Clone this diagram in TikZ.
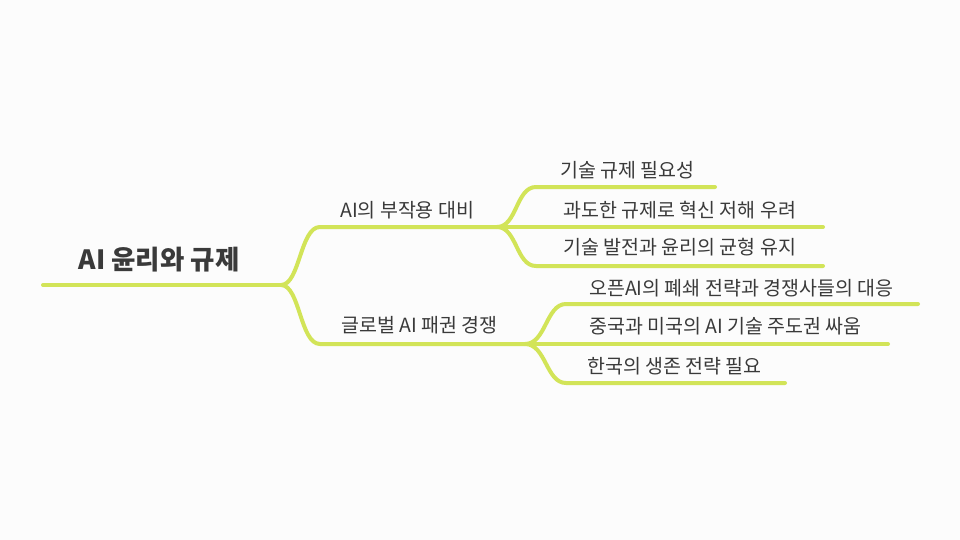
\documentclass[tikz,border=0pt]{standalone}
\usepackage{fontspec}
\setmainfont{Noto Sans CJK KR}
\usetikzlibrary{positioning}
\definecolor{lime}{RGB}{210,228,88}
\definecolor{ink}{RGB}{58,58,58}
\definecolor{paper}{RGB}{252,252,252}

\begin{document}
\begin{tikzpicture}[x=1pt,y=-1pt,
  branch/.style={line width=4pt,lime,line cap=round},
  label/.style={anchor=west,inner sep=0pt,text=ink,font=\fontsize{19.5}{22}\selectfont}]

\useasboundingbox[fill=paper] (0,0) rectangle (960,540);

% root
\node[inner sep=0pt,text=ink,font=\fontsize{26.5}{30}\selectfont\bfseries] (root) at (159,260) {AI 윤리와 규제};
\coordinate (rootstart) at (43,285);
\coordinate (rootfork) at (281,285);

% main branches
\coordinate (sidestart) at (320,227);
\coordinate (sidefork) at (497,227);
\coordinate (globalstart) at (320,344);
\coordinate (globalfork) at (525,344);
\node[label] (side) at (340,210) {AI의 부작용 대비};
\node[label] (global) at (341,325) {글로벌 AI 패권 경쟁};

% leaves
\coordinate (needstart) at (536,187);   \coordinate (needend) at (715,187);
\coordinate (fearend) at (823,227);
\coordinate (balancestart) at (536,266); \coordinate (balanceend) at (823,266);
\coordinate (openstart) at (566,304);   \coordinate (openend) at (918,304);
\coordinate (rivalend) at (888,344);
\coordinate (koreastart) at (566,383);  \coordinate (koreaend) at (785,383);

\node[label] (need) at (560,170) {기술 규제 필요성};
\node[label] (fear) at (563,210) {과도한 규제로 혁신 저해 우려};
\node[label] (balance) at (563,247) {기술 발전과 윤리의 균형 유지};
\node[label] (open) at (589,288) {오픈AI의 폐쇄 전략과 경쟁사들의 대응};
\node[label] (rival) at (589,326) {중국과 미국의 AI 기술 주도권 싸움};
\node[label] (korea) at (587,366) {한국의 생존 전략 필요};

\draw[branch] (rootstart) -- (rootfork);
\draw[branch] (rootfork) .. controls (300,285) and (300,227) .. (sidestart) -- (sidefork);
\draw[branch] (rootfork) .. controls (300,285) and (300,344) .. (globalstart) -- (globalfork);

\draw[branch] (sidefork) .. controls (517,227) and (516,187) .. (needstart) -- (needend);
\draw[branch] (sidefork) -- (fearend);
\draw[branch] (sidefork) .. controls (517,227) and (516,266) .. (balancestart) -- (balanceend);

\draw[branch] (globalfork) .. controls (546,344) and (546,304) .. (openstart) -- (openend);
\draw[branch] (globalfork) -- (rivalend);
\draw[branch] (globalfork) .. controls (546,344) and (546,383) .. (koreastart) -- (koreaend);

\end{tikzpicture}
\end{document}
